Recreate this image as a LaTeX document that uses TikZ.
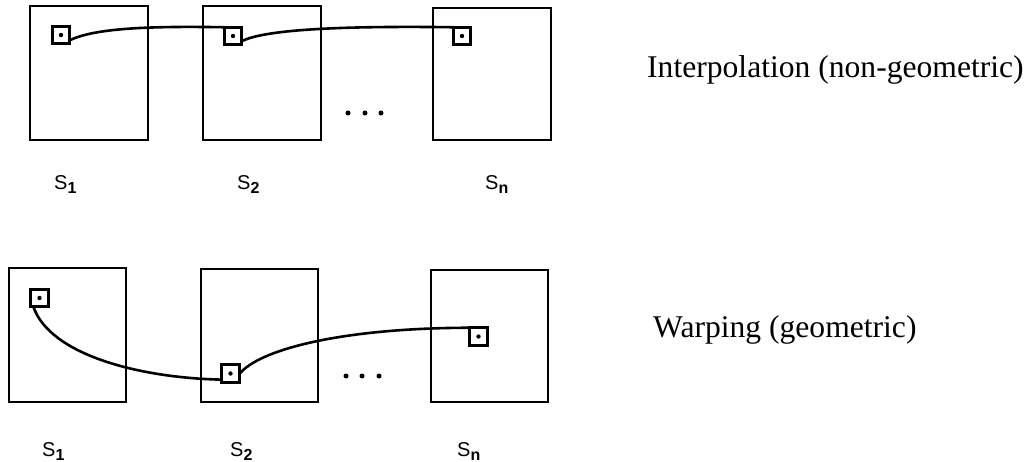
\documentclass[tikz,border=0pt]{standalone}
\usepackage{fontspec}
\setmainfont{Liberation Serif}
\newfontfamily\labfont{Liberation Sans}
\newcommand\slab[2]{{\labfont\fontsize{20}{20}\selectfont #1\raisebox{-4pt}{\fontsize{16}{16}\selectfont\bfseries #2}}}
\begin{document}
\begin{tikzpicture}[x=1pt,y=-1pt,
  frame/.style={draw,line width=2.2pt,inner sep=0pt,outer sep=0pt},
  pbox/.style={draw,line width=3pt,minimum size=17.5pt,inner sep=0pt,outer sep=0pt},
  pdot/.style={fill,circle,inner sep=0pt,minimum size=4.4pt},
  edot/.style={fill,circle,inner sep=0pt,minimum size=5pt},
  link/.style={line width=2.6pt},
  slabel/.style={anchor=base west,inner sep=0pt},
  caption/.style={anchor=base west,inner sep=0pt,font=\fontsize{31.6}{34}\selectfont}]
\useasboundingbox (0,0) rectangle (1033,462);
% ---- top row: interpolation
\node[frame,minimum width=118pt,minimum height=134pt] (tf1) at (89,73) {};
\node[frame,minimum width=118pt,minimum height=134pt] (tf2) at (262,73) {};
\node[frame,minimum width=118pt,minimum height=132pt] (tf3) at (492,74) {};
\node[pbox] (tb1) at (61,35) {};
\node[pbox] (tb2) at (233,36) {};
\node[pbox] (tb3) at (462,36) {};
\node[pdot] (td1) at (tb1) {};
\node[pdot] (td2) at (tb2) {};
\node[pdot] (td3) at (tb3) {};
\node[edot] (te1) at (348,113) {};
\node[edot] (te2) at (365,113) {};
\node[edot] (te3) at (381,113) {};
\draw[link] (tb1.-31) .. controls (95,28) and (150,26) .. (tb2.north west);
\draw[link] (tb2.-31) .. controls (267,28) and (360,26) .. (tb3.north west);
\node[slabel] (ts1) at (54,190) {\slab{S}{1}};
\node[slabel] (ts2) at (237,190) {\slab{S}{2}};
\node[slabel] (tsn) at (485,190) {\slab{S}{n}};
\node[caption] (tcap) at (647,78) {Interpolation (non-geometric)};
% ---- bottom row: warping
\node[frame,minimum width=117pt,minimum height=134pt] (bf1) at (67.5,335) {};
\node[frame,minimum width=117pt,minimum height=133pt] (bf2) at (259.5,335.5) {};
\node[frame,minimum width=117pt,minimum height=132pt] (bf3) at (489.5,336) {};
\node[pbox] (bb1) at (39.5,298) {};
\node[pbox] (bb2) at (230.5,373.5) {};
\node[pbox] (bb3) at (478.5,336.5) {};
\node[pdot] (bd1) at (bb1) {};
\node[pdot] (bd2) at (bb2) {};
\node[pdot] (bd3) at (bb3) {};
\node[edot] (be1) at (346,376) {};
\node[edot] (be2) at (362,376) {};
\node[edot] (be3) at (379,376) {};
\draw[link] (bb1.-125) .. controls (50,355) and (140,378) .. (bb2.-145);
\draw[link] (bb2.-5) .. controls (258,350) and (340,328) .. (bb3.north west);
\node[slabel] (bs1) at (42,456) {\slab{S}{1}};
\node[slabel] (bs2) at (230,456) {\slab{S}{2}};
\node[slabel] (bsn) at (457,456) {\slab{S}{n}};
\node[caption] (bcap) at (653,337) {Warping (geometric)};
\end{tikzpicture}
\end{document}
